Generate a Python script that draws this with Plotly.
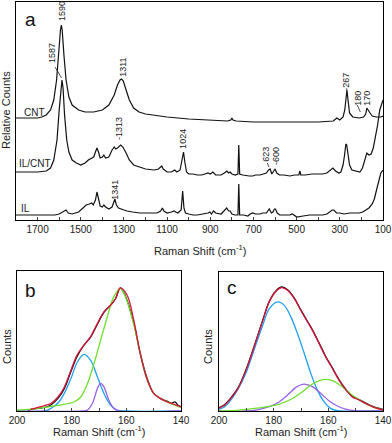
import plotly.graph_objects as go

# ---- panel a: Raman spectra (relative counts, traces offset) ----
cnt_x = [1800, 1700, 1680, 1660, 1640, 1625, 1612, 1602, 1594, 1590, 1586, 1578, 1568, 1555, 1540,
         1510, 1480, 1440, 1400, 1370, 1345, 1330, 1318, 1311, 1303, 1290, 1275, 1255, 1230, 1200,
         1100, 1000, 900, 820, 805, 800, 795, 780, 700, 600, 500, 400, 330, 314, 300, 285, 277,
         272, 267, 262, 255, 240, 210, 190, 180, 175, 170, 160, 150, 130, 110, 100]
cnt_y = [102, 102, 103, 105, 110, 120, 140, 170, 190, 195, 190, 165, 140, 123, 115,
         110, 108, 108, 110, 115, 125, 135, 140, 141, 139, 130, 120, 112, 108, 106,
         103, 101, 100, 99, 100, 102, 100, 99, 98, 98, 98, 98, 99, 102, 100, 103, 110,
         122, 130, 120, 107, 103, 102, 103, 106, 112, 110, 107, 104, 103, 103, 104]

ilcnt_x = [1800, 1700, 1660, 1640, 1625, 1610, 1600, 1592, 1587, 1582, 1575, 1565, 1555, 1540, 1520,
           1500, 1480, 1465, 1450, 1440, 1432, 1425, 1418, 1410, 1400, 1393, 1385, 1370, 1355, 1345,
           1338, 1330, 1315, 1305, 1290, 1275, 1255, 1230, 1200, 1160, 1140, 1125, 1118, 1100, 1080,
           1065, 1055, 1040, 1030, 1024, 1018, 1010, 1000, 980, 960, 940, 925, 911, 900, 888,
           875, 850, 835, 823, 815, 808, 800, 785, 772, 768, 764, 750, 720, 703, 690,
           670, 655, 640, 630, 623, 615, 608, 600, 592, 580, 560, 531, 510, 490, 485,
           481, 460, 430, 406, 380, 360, 345, 332, 320, 305, 295, 285, 278, 272, 268,
           263, 255, 244, 230, 215, 207, 195, 185, 175, 165, 155, 145, 135, 125, 115, 105, 100]
ilcnt_y = [48, 48, 49, 52, 60, 80, 110, 135, 140, 132, 105, 80, 68, 60, 57,
           55, 57, 60, 62, 63, 68, 72, 68, 62, 63, 65, 62, 63, 70, 73,
           71, 72, 75, 73, 67, 60, 55, 53, 51, 50, 51, 54, 51, 48, 48,
           50, 48, 50, 60, 68, 58, 48, 46, 46, 45, 45, 46, 47, 46, 48,
           45, 45, 47, 49, 47, 48, 46, 45, 46, 75, 46, 45, 44, 44, 45,
           45, 46, 47, 50, 51, 46, 49, 51, 47, 45, 45, 44, 45, 45, 49,
           45, 45, 46, 46, 46, 47, 50, 52, 49, 47, 48, 55, 65, 76, 75,
           65, 55, 50, 49, 48, 48, 52, 60, 67, 65, 66, 72, 82, 95, 110, 118, 120]

il_x = [1800, 1700, 1620, 1600, 1580, 1568, 1558, 1540, 1510, 1490, 1475, 1460, 1450, 1442, 1432,
        1425, 1418, 1410, 1400, 1393, 1385, 1370, 1355, 1347, 1342, 1335, 1325, 1300, 1286, 1260,
        1226, 1180, 1147, 1130, 1122, 1115, 1100, 1080, 1068, 1060, 1050, 1035, 1028, 1022, 1015,
        1000, 980, 960, 930, 910, 902, 895, 885, 875, 850, 835, 824, 815, 808, 800,
        785, 772, 768, 764, 745, 726, 715, 703, 690, 670, 657, 640, 632, 627, 617,
        610, 603, 598, 590, 578, 550, 531, 520, 499, 470, 440, 410, 379, 360, 345,
        335, 328, 315, 300, 280, 254, 230, 210, 194, 180, 165, 150, 140, 130, 122, 115, 110, 100]
il_y = [5, 5, 5, 6, 8, 10, 7, 6, 8, 12, 15, 16, 17, 15, 20,
        28, 22, 14, 13, 15, 13, 11, 13, 19, 21, 15, 12, 10, 9, 8,
        7, 7, 7, 9, 12, 9, 7, 8, 9, 8, 7, 10, 29, 12, 7,
        6, 5, 5, 6, 7, 8, 6, 9, 7, 6, 9, 12, 9, 9, 6,
        5, 5, 36, 5, 5, 4, 6, 7, 6, 6, 7, 7, 10, 11, 7,
        8, 11, 11, 7, 5, 5, 5, 6, 3, 4, 5, 5, 5, 6, 8,
        10, 10, 7, 7, 6, 7, 7, 7, 8, 10, 12, 16, 21, 30, 37, 42, 47, 50]

# ---- panel b: peak fit ----
b_data_x = [196, 194, 192, 190, 187.5, 185, 182.7, 180.3, 178, 175.5, 173, 170.6, 168.2, 165.8, 164,
            162.2, 160.3, 157.3, 154.9, 152.5, 150, 147.6, 145.2, 143.5, 142.2, 141, 140]
b_data_y = [0.5, 1.5, 1.8, 2.5, 4.5, 9, 16, 28, 39, 47, 53, 62, 70.5, 75.5, 80,
            88, 82, 63, 41, 24, 12.6, 9, 7, 5.5, 6.5, 4, 3]
b_fit_x = [195, 192, 190, 187.5, 185, 182.7, 180.3, 178, 175.5, 173, 170.6, 168.2, 165.8, 164, 162.2,
           159.7, 157.3, 154.9, 152.5, 150, 147.6, 145.2, 142.8, 140]
b_fit_y = [1.2, 2.8, 3.8, 5.5, 10, 17, 29, 40, 47, 53.4, 62.5, 70.8, 75.5, 80, 88,
           82.7, 65, 41, 23, 12.6, 9, 6.6, 5, 3]
b_g1_x = [200, 190, 187.5, 185.1, 182.7, 180.3, 177.9, 175.5, 173, 170.6, 168.2, 165.8, 163.4, 160, 140]
b_g1_y = [0, 0, 2, 5.5, 12.6, 23, 35, 40.4, 36, 24.5, 12.6, 4.3, 0.7, 0, 0]
b_g2_x = [200, 176, 174.2, 172.4, 170.6, 169.4, 168.2, 166.4, 164.6, 162.8, 140]
b_g2_y = [0, 0, 0.7, 5.5, 16, 19.7, 17.3, 7.8, 1.9, 0, 0]
b_g3_x = [200, 194.8, 190, 183.9, 179, 176.7, 174.2, 171.8, 169.4, 167, 164.6, 162.2,
          160.3, 157.3, 154.9, 152.5, 150, 147.6, 145.2, 142.8, 140]
b_g3_y = [0.7, 1.4, 2.6, 4.3, 6.6, 10, 19.7, 34, 50.6, 67, 81.5, 87.4,
          81.5, 62, 41, 23, 12.6, 9, 6.6, 4.5, 2.5]

# ---- panel c: peak fit ----
c_fit_x = [200, 197.9, 196.1, 193.1, 190.1, 187, 184, 181.6, 179.2, 177, 174.9, 172.5, 170.1, 167.6,
           165.8, 163.4, 161, 158.5, 156.1, 153.7, 151.3, 148.8, 146.4, 144, 140]
c_fit_y = [2, 4.3, 8, 16, 29.4, 47, 65, 78.5, 86, 88.8, 86.8, 81, 72.5, 64,
           58, 48.6, 39, 30.6, 22.2, 15.5, 10.3, 7.9, 5.5, 3.1, 0.7]
c_g1_x = [200, 197.9, 196.1, 193.1, 190.1, 187, 184, 181.6, 178.5, 176.1, 173.7, 171.3, 168.8,
          166.4, 164, 161.6, 159.2, 156.7, 150, 140]
c_g1_y = [1.2, 3, 6.7, 15.5, 27.5, 45, 61.7, 73.7, 78.5, 76, 67.7, 55.7, 41.4,
          27, 15, 6.7, 1.9, 0.2, 0, 0]
c_g2_x = [200, 190, 186.4, 181.6, 177.9, 174.9, 171.9, 168.8, 165.8, 162.8, 159.8, 156.7, 153.7, 150.1, 140]
c_g2_y = [0, 0, 0.7, 3.1, 6.7, 11.5, 17, 19.4, 17.5, 12.7, 7.4, 3.6, 1.4, 0.2, 0]
c_g3_x = [200, 196.1, 190.1, 184, 177.9, 173.1, 169.5, 165.8, 161.6, 158.5, 154.9, 151.3, 147.6, 144, 140]
c_g3_y = [0, 0.2, 1.2, 2.6, 5, 9, 13.9, 19.4, 22.7, 21.8, 17.5, 11.5, 6.7, 3.1, 0.7]

# peak labels in panel a: text, x (cm-1), y
peak_text = ["1590", "1587", "1311", "-1313", "1024", "1341", "623", "-600", "-267", "180", "170"]
peak_x = [1587, 1633, 1305, 1323, 1027, 1342, 643, 596, 272, 217, 175]
peak_y = [209, 167, 153, 92, 81, 30, 66, 64, 138, 122, 122]

FONT = "Arial, Liberation Sans, sans-serif"
BLACK = "#111111"
RED = "#d8143c"
BLUE = "#1f9ff0"
PURPLE = "#9a62e6"
GREEN = "#6ee02c"

fig = go.Figure()
for xs, ys in [(cnt_x, cnt_y), (ilcnt_x, ilcnt_y), (il_x, il_y)]:
    fig.add_trace(go.Scatter(x=xs, y=ys, mode="lines", line=dict(color=BLACK, width=1.2),
                             xaxis="x", yaxis="y", showlegend=False))

def fit_panel(ax, data_x, data_y, fit_x, fit_y, comps):
    fig.add_trace(go.Scatter(x=data_x, y=data_y, mode="lines", line=dict(color=BLACK, width=1.3, shape="spline"),
                             xaxis="x" + ax, yaxis="y" + ax, showlegend=False))
    for xs, ys, col in comps:
        fig.add_trace(go.Scatter(x=xs, y=ys, mode="lines", line=dict(color=col, width=1.3, shape="spline"),
                                 xaxis="x" + ax, yaxis="y" + ax, showlegend=False))
    fig.add_trace(go.Scatter(x=fit_x, y=fit_y, mode="lines", line=dict(color=RED, width=1.3, shape="spline"),
                             xaxis="x" + ax, yaxis="y" + ax, showlegend=False))

fit_panel("2", b_data_x, b_data_y, b_fit_x, b_fit_y,
          [(b_g1_x, b_g1_y, BLUE), (b_g2_x, b_g2_y, PURPLE), (b_g3_x, b_g3_y, GREEN)])
fit_panel("3", c_fit_x, [v + 0.4 for v in c_fit_y], c_fit_x, c_fit_y,
          [(c_g1_x, c_g1_y, BLUE), (c_g2_x, c_g2_y, PURPLE), (c_g3_x, c_g3_y, GREEN)])

W, H = 392, 443
def px(x):
    return x / W
def py(y):
    return 1 - y / H

axis_common = dict(showline=True, linecolor="black", linewidth=1, mirror=True,
                   showgrid=False, zeroline=False, automargin=False)
tick_font = dict(family=FONT, size=10, color="#222")

fig.update_layout(
    template="none",
    width=W, height=H, margin=dict(l=0, r=0, t=0, b=0, pad=0),
    paper_bgcolor="white", plot_bgcolor="white",
    xaxis=dict(domain=[px(16), px(383)], range=[1800, 100], anchor="y",
               ticks="inside", ticklen=3, dtick=200, tick0=100, tickfont=tick_font,
               minor=dict(ticks="inside", ticklen=3, dtick=100, tick0=100), **axis_common),
    yaxis=dict(domain=[py(220), py(2)], range=[0, 218], showticklabels=False, ticks="", anchor="x", **axis_common),
    xaxis2=dict(domain=[px(17), px(181)], range=[200, 140], anchor="y2",
                ticks="inside", ticklen=3, dtick=20, tickfont=tick_font,
                minor=dict(ticks="inside", ticklen=3, dtick=10), **axis_common),
    yaxis2=dict(domain=[py(411), py(271)], range=[0, 100], showticklabels=False, ticks="", anchor="x2", **axis_common),
    xaxis3=dict(domain=[px(219), px(383)], range=[200, 140], anchor="y3",
                ticks="inside", ticklen=3, dtick=20, tickfont=tick_font,
                minor=dict(ticks="inside", ticklen=3, dtick=10), **axis_common),
    yaxis3=dict(domain=[py(411), py(272)], range=[0, 100], showticklabels=False, ticks="", anchor="x3", **axis_common),
)

ann = []
for t, x, y in zip(peak_text, peak_x, peak_y):
    ann.append(dict(text=t, x=x, y=y, xref="x", yref="y", showarrow=False, textangle=-90,
                    xanchor="center", yanchor="middle",
                    font=dict(family=FONT, size=9, color="#222")))
for t, x, y in [("CNT", 22, 112), ("IL/CNT", 17, 163), ("IL", 19, 208)]:
    ann.append(dict(text=t, x=px(x), y=py(y), xref="paper", yref="paper", xanchor="left", yanchor="middle",
                    showarrow=False, font=dict(family=FONT, size=10, color="#222")))
for t, x, y in [("a", 30, 20), ("b", 30, 290), ("c", 232, 287)]:
    ann.append(dict(text=t, x=px(x), y=py(y), xref="paper", yref="paper", showarrow=False,
                    xanchor="center", yanchor="middle",
                    font=dict(family=FONT, size=19, color="#111")))
xt = "Raman Shift (cm<sup>-1</sup>)"
for t, x, y, ang in [("Relative Counts", 6, 110, -90), (xt, 200, 250, 0),
                     ("Counts", 7, 347, -90), (xt, 99, 431, 0),
                     ("Counts", 208, 347, -90), (xt, 301, 431, 0)]:
    ann.append(dict(text=t, x=px(x), y=py(y), xref="paper", yref="paper", showarrow=False,
                    xanchor="center", yanchor="middle",
                    textangle=ang, font=dict(family=FONT, size=11, color="#222")))
fig.update_layout(annotations=ann)

# small leader lines next to some peak labels
for x0, y0, x1, y1 in [(1619, 153, 1589, 142), (636, 57, 628, 53), (219, 115, 205, 108)]:
    fig.add_shape(type="line", x0=x0, y0=y0, x1=x1, y1=y1, xref="x", yref="y",
                  line=dict(color="#222", width=0.8))

# the page body has a default margin; remove it so the figure sits at the window origin
fig.write_html("out.html", config={"displayModeBar": False},
               post_script="document.body.style.margin='0';document.body.style.overflow='hidden';")
